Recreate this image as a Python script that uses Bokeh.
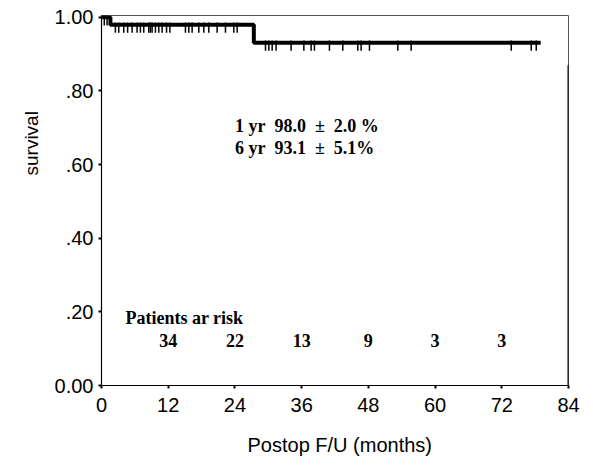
from bokeh.plotting import figure
from bokeh.models import Range1d, FixedTicker, Label, Title
from bokeh.embed import file_html
from bokeh.resources import INLINE

# ---- data ----
step_months = [0, 1.6, 27.4, 79.0]
step_surv = [1.0, 0.98, 0.931, 0.931]

censor_top = [0.5, 1.0]
censor_early = [2.5, 3.1, 4.0, 4.7, 5.5, 6.4, 7.0, 7.6, 8.5, 8.8, 9.1, 9.7,
                10.3, 10.9, 11.7, 12.3, 15.1, 15.7, 16.3, 17.5, 18.4, 19.3,
                20.8, 22.3, 23.8, 24.4]
censor_late = [29.5, 30.1, 30.7, 31.4, 34.1, 36.4, 37.7, 38.3, 41.0, 43.4,
               46.1, 46.7, 48.2, 53.3, 55.7, 73.7, 77.3, 78.2]

risk_months = [12, 24, 36, 48, 60, 72]
risk_counts = [34, 22, 13, 9, 3, 3]

x_ticks = [0, 12, 24, 36, 48, 60, 72, 84]
y_ticks = [0.0, 0.2, 0.4, 0.6, 0.8, 1.0]
y_tick_labels = ["0.00", ".20", ".40", ".60", ".80", "1.00"]

NB = "\u00a0"
annot_lines = ["1 yr" + NB * 2 + "98.0" + NB * 2 + "\u00b1" + NB * 2 + "2.0 %",
               "6 yr" + NB * 2 + "93.1" + NB * 2 + "\u00b1" + NB * 2 + "5.1%"]

# ---- figure ----
p = figure(width=593, height=476, output_backend="svg", toolbar_location=None,
           x_range=Range1d(0, 84), y_range=Range1d(0, 1.005),
           min_border_left=101, min_border_right=25, min_border_top=15,
           min_border_bottom=91)
p.xgrid.visible = False
p.ygrid.visible = False
p.background_fill_color = "white"
p.border_fill_color = "white"
p.outline_line_color = "#555555"
p.outline_line_width = 1

# KM step curve
p.step(step_months, step_surv, mode="after", line_color="black", line_width=4)

# right-edge line (end of follow-up)
p.segment(x0=[84], y0=[0], x1=[84], y1=[0.87], line_color="black", line_width=2)

# censor marks
def censor(xs, level):
    p.segment(x0=xs, y0=[level + 0.006] * len(xs), x1=xs,
              y1=[level - 0.022] * len(xs), line_color="black", line_width=1.5)

censor(censor_top, 1.0)
censor(censor_early, 0.98)
censor(censor_late, 0.931)

# axes
for ax in (p.xaxis[0], p.yaxis[0]):
    ax.axis_line_color = "black"
    ax.axis_line_width = 1.2
    ax.major_tick_line_color = "black"
    ax.major_tick_line_width = 2
    ax.major_tick_in = 0
    ax.major_tick_out = 3
    ax.minor_tick_line_color = None
    ax.major_label_text_font = "Liberation Sans"
    ax.major_label_text_font_size = "20px"
    ax.major_label_text_color = "black"

p.xaxis.ticker = FixedTicker(ticks=x_ticks)
p.xaxis.major_label_standoff = 9
p.yaxis.ticker = FixedTicker(ticks=y_ticks)
p.yaxis.major_label_overrides = {t: l for t, l in zip(y_ticks, y_tick_labels)}
p.yaxis.major_label_standoff = 5

# axis titles as side titles, so they can be shifted along the axis
p.add_layout(Title(text="survival", align="left", offset=210, standoff=20,
                   text_font="Liberation Sans", text_font_size="19px",
                   text_font_style="normal", text_color="black"), "left")
p.add_layout(Title(text="Postop F/U (months)", align="left", offset=146,
                   standoff=34, text_font="Liberation Sans",
                   text_font_size="20px", text_font_style="normal",
                   text_color="black"), "below")

# annotation text
for i, line in enumerate(annot_lines):
    p.add_layout(Label(x=24.0, y=0.705 - i * 0.06, text=line,
                       text_align="left", text_baseline="middle",
                       text_font="Liberation Serif", text_font_style="bold",
                       text_font_size="18px", text_color="black"))

# patients at risk
p.add_layout(Label(x=4.3, y=0.184, text="Patients ar risk",
                   text_align="left", text_baseline="middle",
                   text_font="Liberation Serif", text_font_style="bold",
                   text_font_size="18px", text_color="black"))
for m, c in zip(risk_months, risk_counts):
    p.add_layout(Label(x=m, y=0.123, text=str(c), text_align="center",
                       text_baseline="middle", text_font="Liberation Serif",
                       text_font_style="bold", text_font_size="18px",
                       text_color="black"))

open("out.html", "w").write(file_html(p, INLINE))
